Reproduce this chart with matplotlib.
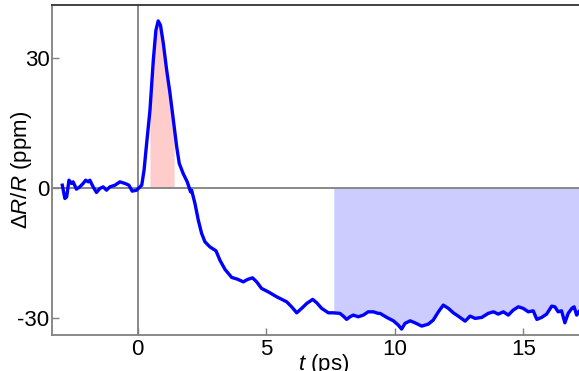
import numpy as np
import matplotlib
matplotlib.use("Agg")
import matplotlib.pyplot as plt

plt.rcParams["font.family"] = ["Liberation Sans", "DejaVu Sans"]
plt.rcParams["mathtext.fontset"] = "custom"
plt.rcParams["mathtext.rm"] = "Liberation Sans"
plt.rcParams["mathtext.it"] = "Liberation Sans:italic"

# delay time (ps) and reflectivity change (ppm)
t_ps = [-2.93, -2.83, -2.76, -2.67, -2.57, -2.51, -2.38, -2.25, -2.12, -2.02,
        -1.92, -1.86, -1.73, -1.60, -1.47, -1.34, -1.21, -1.08, -0.88, -0.69,
        -0.49, -0.34, -0.21, -0.04, 0.09, 0.16, 0.25, 0.35, 0.48, 0.61,
        0.71, 0.80, 0.89, 1.00, 1.13, 1.26, 1.39, 1.52, 1.62, 1.77,
        1.93, 2.06, 2.10, 2.23, 2.36, 2.49, 2.62, 2.81, 3.05, 3.20,
        3.40, 3.66, 3.88, 4.11, 4.28, 4.47, 4.63, 4.82, 5.08, 5.41,
        5.80, 5.99, 6.19, 6.38, 6.58, 6.81, 6.97, 7.16, 7.42, 7.61,
        7.87, 8.00, 8.13, 8.26, 8.39, 8.58, 8.78, 8.97, 9.17, 9.36,
        9.43, 9.69, 9.95, 10.14, 10.27, 10.40, 10.60, 10.79, 11.05, 11.31,
        11.50, 11.70, 11.89, 12.09, 12.28, 12.47, 12.74, 12.93, 13.13, 13.39,
        13.64, 13.84, 14.03, 14.23, 14.42, 14.61, 14.81, 15.00, 15.20, 15.39,
        15.53, 15.72, 15.91, 16.11, 16.23, 16.36, 16.49, 16.62, 16.75, 16.89,
        16.98, 17.08, 17.16]
dr_ppm = [0.62, -2.45, -2.08, 1.78, 1.02, 1.39, -0.30, 0.23, 1.02, 1.78,
          1.39, 1.78, 0.23, -1.06, -0.14, 0.23, -0.53, 0.23, 0.62, 1.39,
          1.02, 0.62, -0.76, -0.53, 0.23, 0.62, 4.09, 10.25, 17.94, 29.49,
          36.42, 38.57, 37.57, 33.35, 27.20, 21.80, 15.64, 9.47, 5.64, 3.33,
          1.39, -0.92, -0.53, -3.60, -7.46, -10.53, -12.47, -13.63, -14.55, -16.70,
          -18.85, -20.70, -21.09, -21.71, -21.15, -20.79, -21.71, -23.23, -24.02, -25.17,
          -26.33, -27.48, -28.87, -27.85, -26.70, -25.77, -26.56, -27.85, -28.87, -28.87,
          -29.00, -29.63, -30.39, -29.79, -29.40, -29.79, -29.40, -28.64, -28.64, -29.00,
          -29.00, -29.93, -30.72, -31.71, -32.63, -31.32, -30.72, -31.18, -31.94, -31.48,
          -30.55, -28.64, -27.09, -27.85, -28.87, -29.63, -30.79, -29.63, -30.16, -29.93,
          -29.00, -28.64, -29.17, -28.64, -29.40, -28.25, -27.48, -27.85, -28.64, -28.41,
          -30.39, -29.93, -29.17, -27.32, -27.48, -28.64, -28.41, -31.18, -29.00, -27.85,
          -27.48, -29.40, -28.64]

# shaded windows (ps)
peak_window = (0.48, 1.42)
plateau_window = (7.63, 17.16)

x_ticks = [0, 5, 10, 15]
y_ticks = [-30, 0, 30]

t = np.array(t_ps)
dr = np.array(dr_ppm)

fig = plt.figure(figsize=(5.79, 3.71), dpi=100)
ax = fig.add_axes([0.0903, 0.097, 0.9097, 0.890])

grey = "#808080"

# shaded areas between curve and zero
for (lo, hi), col in [(peak_window, "#ffcccc"), (plateau_window, "#ccccff")]:
    tt = np.linspace(lo, hi, 400)
    ax.fill_between(tt, np.interp(tt, t, dr), 0, color=col, lw=0, zorder=1)

ax.axhline(0, color=grey, lw=1.3, zorder=2)
ax.axvline(0, color=grey, lw=1.3, zorder=2)
ax.plot(t, dr, color="#0000ff", lw=2.4, zorder=3, solid_joinstyle="round")

ax.set_xlim(-3.32, 17.17)
ax.set_ylim(-34.0, 42.3)
ax.set_xticks(x_ticks)
ax.set_yticks(y_ticks)
ax.set_xticklabels([str(v) for v in x_ticks])
ax.set_yticklabels([str(v) for v in y_ticks])

ax.spines["right"].set_visible(False)
for s in ("left", "bottom"):
    ax.spines[s].set_color(grey)
    ax.spines[s].set_linewidth(1.3)
ax.spines["top"].set_color("#333333")
ax.spines["top"].set_linewidth(1.3)

ax.tick_params(direction="in", length=5, width=1, color=grey,
               labelsize=16, pad=2)
ax.tick_params(axis="x", pad=3)

ax.set_xlabel(r"$t$ (ps)", fontsize=16)
ax.set_ylabel(r"$\Delta R/R$ (ppm)", fontsize=16)
ax.xaxis.set_label_coords(0.515, -0.052)
ax.yaxis.set_label_coords(-0.034, 0.5)

fig.savefig("out.png", dpi=100)
